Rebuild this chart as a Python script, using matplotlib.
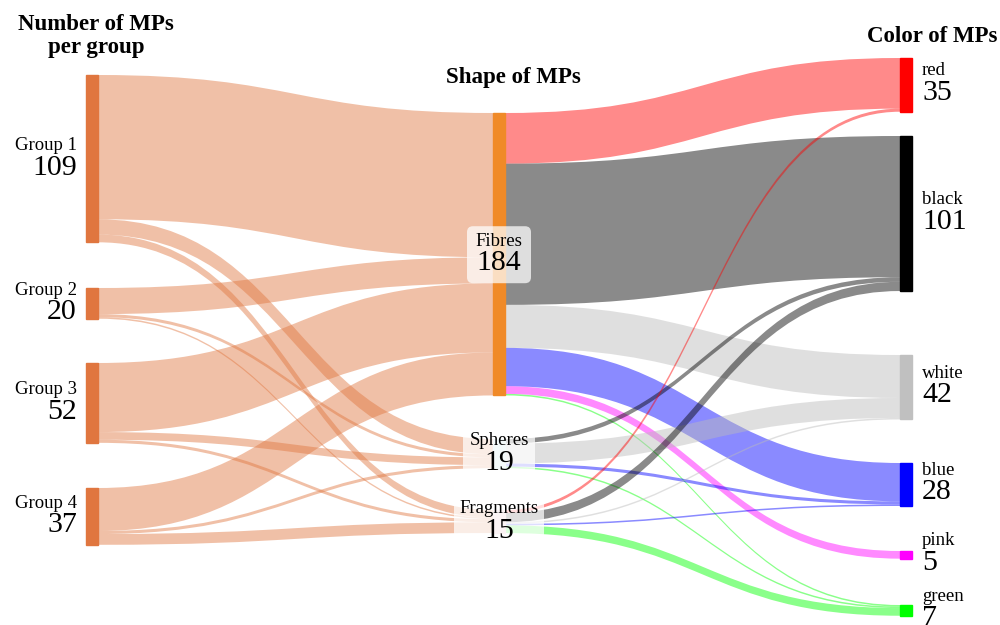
import matplotlib
matplotlib.use("Agg")
import matplotlib.pyplot as plt
from matplotlib.path import Path
from matplotlib.patches import PathPatch, Rectangle, FancyBboxPatch

# --- data ---
groups = ["Group 1", "Group 2", "Group 3", "Group 4"]
shapes = ["Fibres", "Spheres", "Fragments"]
color_names = ["red", "black", "white", "blue", "pink", "green"]

# flows: group -> shape (Fibres, Spheres, Fragments)
group_to_shape = [
    [94, 10, 5],
    [17, 2, 1],
    [45, 5, 2],
    [28, 2, 7],
]
# flows: shape -> color (red, black, white, blue, pink, green)
shape_to_color = [
    [33, 92, 28, 25, 5, 1],
    [0, 3, 13, 2, 0, 1],
    [2, 6, 1, 1, 0, 5],
]

# --- style / layout ---
plt.rcParams["font.family"] = ["Liberation Serif", "DejaVu Serif"]
K = 1.535        # pixels per unit
NODE_W = 12
col_x = [86, 493, 900]
group_tops = [75, 288, 363, 488]
shape_tops = [113, 439, 510]
color_tops = [58, 136, 355, 463, 551, 605]

group_node_col = "#E0763F"
shape_node_cols = ["#F08A28", "#d8eef0", "#f6d8dc"]
color_node_cols = ["#FF0000", "#000000", "#C0C0C0", "#0000FF", "#FF00FF", "#00FF00"]
color_link_cols = ["#FF0000", "#000000", "#BBBBBB", "#0000FF", "#FF00FF", "#00FF00"]
LINK_ALPHA = 0.46

fig = plt.figure(figsize=(10, 6.25), dpi=100)
ax = fig.add_axes([0, 0, 1, 1])
ax.set_xlim(0, 1000)
ax.set_ylim(625, 0)
ax.axis("off")


def ribbon(x0, y0, x1, y1, h, color, alpha):
    xm = (x0 + x1) / 2
    verts = [(x0, y0), (xm, y0), (xm, y1), (x1, y1),
             (x1, y1 + h), (xm, y1 + h), (xm, y0 + h), (x0, y0 + h), (x0, y0)]
    codes = [Path.MOVETO, Path.CURVE4, Path.CURVE4, Path.CURVE4,
             Path.LINETO, Path.CURVE4, Path.CURVE4, Path.CURVE4, Path.CLOSEPOLY]
    ax.add_patch(PathPatch(Path(verts, codes), facecolor=color, edgecolor="none",
                           alpha=alpha, zorder=1))


def draw_links(flows, src_tops, dst_tops, xs, xd, colors):
    n_src, n_dst = len(flows), len(flows[0])
    src_off = list(src_tops)
    dst_off = list(dst_tops)
    # offsets at targets follow source order
    dst_start = {}
    for j in range(n_dst):
        for i in range(n_src):
            dst_start[(i, j)] = dst_off[j]
            dst_off[j] += flows[i][j] * K
    for i in range(n_src):
        for j in range(n_dst):
            v = flows[i][j]
            if v == 0:
                continue
            h = v * K
            ribbon(xs, src_off[i], xd, dst_start[(i, j)], h, colors[j], LINK_ALPHA)
            src_off[i] += h


group_totals = [sum(r) for r in group_to_shape]
shape_totals = [sum(group_to_shape[i][j] for i in range(len(groups))) for j in range(len(shapes))]
color_totals = [sum(shape_to_color[i][j] for i in range(len(shapes))) for j in range(len(color_names))]

draw_links(group_to_shape, group_tops, shape_tops, col_x[0] + NODE_W, col_x[1],
           [group_node_col] * 3)
draw_links(shape_to_color, shape_tops, color_tops, col_x[1] + NODE_W, col_x[2],
           color_link_cols)

# nodes
for top, v in zip(group_tops, group_totals):
    ax.add_patch(Rectangle((col_x[0], top), NODE_W, v * K, color=group_node_col, zorder=2))
for top, v, c in zip(shape_tops, shape_totals, shape_node_cols):
    ax.add_patch(Rectangle((col_x[1], top), NODE_W, v * K, color=c, zorder=2))
for top, v, c in zip(color_tops, color_totals, color_node_cols):
    ax.add_patch(Rectangle((col_x[2], top), NODE_W, v * K, color=c, zorder=2))

NAME_FS = 13.5
NUM_FS = 21.5

# left labels
for name, top, v in zip(groups, group_tops, group_totals):
    cy = top + v * K / 2
    ax.text(77, cy - 13, name, ha="right", va="center", fontsize=NAME_FS, zorder=5)
    ax.text(77, cy + 9, str(v), ha="right", va="center", fontsize=NUM_FS, zorder=5)

# middle labels with boxes
box_w = [64, 72, 90]
for name, top, v, bw in zip(shapes, shape_tops, shape_totals, box_w):
    cy = top + v * K / 2
    cx = col_x[1] + NODE_W / 2
    ax.add_patch(FancyBboxPatch((cx - bw / 2, cy - 28), bw, 57,
                                boxstyle="round,pad=0,rounding_size=6",
                                facecolor="white", edgecolor="none", alpha=0.72, zorder=4))
    ax.text(cx, cy - 13, name, ha="center", va="center", fontsize=NAME_FS, zorder=5)
    ax.text(cx, cy + 9, str(v), ha="center", va="center", fontsize=NUM_FS, zorder=5)

# right labels
for name, top, v in zip(color_names, color_tops, color_totals):
    cy = top + v * K / 2
    ax.text(922, cy - 14, name, ha="left", va="center", fontsize=NAME_FS, zorder=5)
    ax.text(922, cy + 8, str(v), ha="left", va="center", fontsize=NUM_FS, zorder=5)

# column titles
ax.text(96, 36, "Number of MPs\nper group", ha="center", va="center", fontsize=16.5,
        fontweight="bold", linespacing=1.15)
ax.text(513, 77, "Shape of MPs", ha="center", va="center", fontsize=16.5, fontweight="bold")
ax.text(932, 36, "Color of MPs", ha="center", va="center", fontsize=16.5, fontweight="bold")

fig.savefig("out.png", dpi=100)
